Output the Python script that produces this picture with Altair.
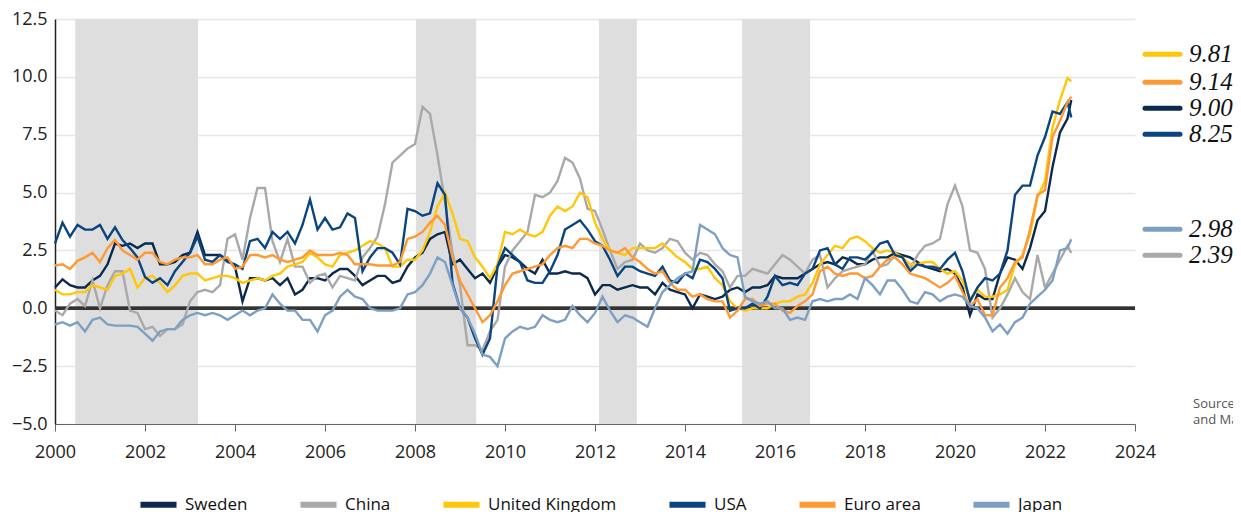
import altair as alt
import pandas as pd

# ---- data (bimonthly readings: Jan, Mar, May, Jul, Sep, Nov; 2022: Jan, Mar, May, Jul, Aug)
countries = ["Sweden", "China", "United Kingdom", "USA", "Euro area", "Japan"]
colors = ["#0b2a4e", "#a9a9a9", "#ffc60a", "#0a4580", "#ff9933", "#7d9fc3"]

sweden = [
    0.9, 1.25, 1.0, 0.9, 0.9, 1.2,
    1.4, 1.9, 2.8, 2.7, 2.8, 2.6,
    2.8, 2.8, 1.9, 1.9, 2.0, 2.3,
    2.4, 3.3, 2.3, 2.3, 2.3, 2.1,
    1.8, 0.3, 1.3, 1.3, 1.2, 1.3,
    1.0, 1.3, 0.6, 0.8, 1.3, 1.3,
    1.2, 1.5, 1.7, 1.7, 1.4, 1.0,
    1.2, 1.4, 1.4, 1.1, 1.2, 1.8,
    2.2, 2.4, 3.0, 3.2, 3.3, 1.9,
    2.1, 1.7, 1.3, 1.5, 1.1, 1.8,
    2.3, 2.2, 2.0, 1.7, 1.5, 2.1,
    1.5, 1.5, 1.6, 1.5, 1.5, 1.3,
    0.6, 1.0, 1.0, 0.8, 0.9, 1.0,
    0.9, 0.9, 0.6, 1.1, 0.8, 0.7,
    0.6, 0.0, 0.6, 0.5, 0.4, 0.5,
    0.8, 0.9, 0.7, 0.9, 0.9, 1.0,
    1.4, 1.3, 1.3, 1.3, 1.5, 1.7,
    1.9, 2.0, 1.9, 2.2, 2.1, 1.9,
    1.9, 2.1, 2.2, 2.2, 2.4, 2.3,
    2.2, 2.0, 1.8, 1.7, 1.6, 1.7,
    1.5, 0.9, -0.3, 0.6, 0.4, 0.4,
    1.5, 2.2, 2.1, 1.7, 2.6, 3.8,
    4.2, 6.1, 7.6, 8.2, 9.0,
]

china = [
    -0.1, -0.3, 0.2, 0.4, 0.1, 1.2,
    0.0, 1.0, 1.6, 1.6, -0.1, -0.2,
    -0.9, -0.8, -1.2, -0.9, -0.9, -0.7,
    0.3, 0.7, 0.8, 0.7, 1.0, 3.0,
    3.2, 2.1, 3.9, 5.2, 5.2, 2.9,
    2.0, 3.0, 1.8, 1.8, 1.1, 1.4,
    1.5, 0.9, 1.4, 1.3, 1.2, 2.2,
    2.6, 3.1, 4.5, 6.3, 6.6, 6.9,
    7.1, 8.7, 8.4, 6.6, 4.6, 2.4,
    1.0, -1.6, -1.6, -1.8, -1.0, -0.5,
    1.8, 2.5, 2.9, 3.3, 4.9, 4.8,
    5.0, 5.5, 6.5, 6.3, 5.6, 4.3,
    4.2, 3.4, 2.5, 1.7, 2.0, 2.1,
    2.8, 2.5, 2.4, 2.6, 3.0, 2.9,
    2.4, 2.1, 2.4, 2.3, 1.9, 1.6,
    0.9, 1.4, 1.4, 1.7, 1.6, 1.5,
    1.9, 2.3, 2.1, 1.8, 1.5, 2.1,
    2.3, 0.9, 1.3, 1.6, 1.7, 1.8,
    1.9, 2.5, 1.8, 1.9, 2.3, 2.2,
    1.7, 2.3, 2.7, 2.8, 3.0, 4.5,
    5.3, 4.4, 2.5, 2.4, 1.7, -0.4,
    0.0, 0.6, 1.3, 0.7, 0.4, 2.3,
    0.9, 1.5, 2.1, 2.7, 2.39,
]

uk = [
    0.8, 0.6, 0.6, 0.7, 0.7, 1.0,
    0.9, 0.8, 1.4, 1.5, 1.7, 0.9,
    1.3, 1.4, 1.1, 0.7, 1.0, 1.4,
    1.5, 1.5, 1.2, 1.3, 1.4, 1.4,
    1.3, 1.1, 1.2, 1.3, 1.2, 1.4,
    1.5, 1.8, 1.9, 2.0, 2.4, 2.2,
    1.9, 1.8, 2.3, 2.4, 2.5, 2.7,
    2.9, 2.8, 2.6, 1.8, 1.8, 2.1,
    2.1, 2.5, 3.3, 4.4, 5.0, 4.1,
    3.0, 2.9, 2.2, 1.8, 1.3, 1.9,
    3.3, 3.2, 3.4, 3.2, 3.1, 3.3,
    4.0, 4.4, 4.2, 4.4, 5.0, 4.8,
    3.7, 3.0, 2.5, 2.4, 2.3, 2.6,
    2.6, 2.6, 2.6, 2.8, 2.5, 2.2,
    2.0, 1.7, 1.7, 1.8, 1.3, 1.0,
    0.3, 0.0, -0.1, 0.0, 0.0, 0.0,
    0.2, 0.3, 0.3, 0.5, 0.6, 1.1,
    1.9, 2.3, 2.7, 2.6, 3.0, 3.1,
    2.9, 2.6, 2.4, 2.5, 2.4, 2.2,
    1.9, 1.9, 2.0, 2.0, 1.7, 1.5,
    1.6, 1.2, 0.4, 0.8, 0.5, 0.5,
    0.6, 0.8, 1.9, 2.3, 3.2, 4.8,
    5.5, 7.8, 9.0, 9.95, 9.81,
]

usa = [
    2.8, 3.7, 3.1, 3.6, 3.4, 3.4,
    3.6, 3.0, 3.5, 2.95, 2.6, 2.2,
    1.35, 1.1, 1.3, 1.0, 1.6, 2.0,
    2.4, 3.1, 2.1, 2.0, 2.3, 2.0,
    1.9, 1.7, 2.9, 3.0, 2.6, 3.3,
    3.0, 3.3, 2.8, 3.6, 4.7, 3.4,
    3.9, 3.4, 3.5, 4.1, 3.9, 1.6,
    2.2, 2.6, 2.6, 2.4, 1.9, 4.3,
    4.2, 4.0, 4.1, 5.4, 4.9, 1.1,
    0.0, -0.4, -1.3, -2.0, -1.3, 1.8,
    2.6, 2.3, 2.0, 1.2, 1.1, 1.1,
    1.6, 2.3, 3.4, 3.6, 3.8, 3.4,
    2.9, 2.7, 2.1, 1.4, 1.8, 1.8,
    1.6, 1.5, 1.4, 1.8, 1.2, 1.1,
    1.5, 1.3, 2.1, 2.0, 1.7, 1.3,
    -0.1, 0.0, 0.0, 0.2, 0.0, 0.5,
    1.4, 1.0, 1.1, 1.0, 1.5, 1.7,
    2.5, 2.6, 1.9, 1.7, 2.2, 2.2,
    2.1, 2.4, 2.8, 2.9, 2.3, 2.2,
    1.6, 1.9, 1.8, 1.8, 1.7, 2.1,
    2.4, 1.6, 0.3, 0.9, 1.3, 1.2,
    1.5, 2.5, 4.9, 5.3, 5.3, 6.6,
    7.4, 8.5, 8.4, 8.9, 8.25,
]

euro = [
    1.85, 1.9, 1.7, 2.05, 2.2, 2.4,
    2.0, 2.6, 2.95, 2.5, 2.3, 2.1,
    2.4, 2.4, 2.0, 1.9, 2.1, 2.2,
    2.2, 2.3, 1.9, 1.9, 2.1, 2.2,
    1.7, 1.8, 2.3, 2.3, 2.2, 2.3,
    2.1, 2.0, 2.1, 2.2, 2.5, 2.3,
    2.3, 2.3, 2.4, 2.3, 1.9, 1.9,
    1.9, 1.85, 1.85, 1.85, 2.0, 3.0,
    3.1, 3.3, 3.7, 4.0, 3.6, 2.2,
    1.2, 0.6, 0.0, -0.6, -0.3, 0.3,
    1.0, 1.5, 1.6, 1.7, 1.8, 1.9,
    2.3, 2.6, 2.7, 2.6, 3.0, 3.0,
    2.8, 2.7, 2.5, 2.4, 2.6, 2.2,
    2.0, 1.7, 1.5, 1.6, 1.1, 0.8,
    0.8, 0.5, 0.6, 0.4, 0.3, 0.3,
    -0.4, -0.1, 0.4, 0.4, 0.1, 0.2,
    0.2, -0.1, -0.2, 0.1, 0.3, 0.6,
    1.6, 1.8, 1.5, 1.4, 1.5, 1.5,
    1.3, 1.4, 1.8, 2.1, 2.2, 1.9,
    1.5, 1.4, 1.3, 1.1, 0.9, 1.1,
    1.4, 0.7, 0.1, 0.4, -0.3, -0.3,
    0.9, 1.3, 2.0, 2.2, 3.4, 4.9,
    5.1, 7.4, 8.1, 8.9, 9.14,
]

japan = [
    -0.7, -0.6, -0.75, -0.6, -1.0, -0.5,
    -0.4, -0.7, -0.75, -0.75, -0.75, -0.8,
    -1.1, -1.4, -1.0, -0.9, -0.9, -0.5,
    -0.3, -0.2, -0.3, -0.2, -0.3, -0.5,
    -0.3, -0.1, -0.3, -0.1, 0.0, 0.6,
    0.2, -0.1, -0.1, -0.5, -0.5, -1.0,
    -0.3, -0.1, 0.5, 0.8, 0.5, 0.4,
    0.0, -0.1, -0.1, -0.1, 0.0, 0.6,
    0.7, 1.0, 1.5, 2.2, 2.0, 1.0,
    0.0, -0.4, -1.1, -2.0, -2.1, -2.5,
    -1.3, -1.0, -0.8, -0.9, -0.8, -0.3,
    -0.5, -0.6, -0.5, 0.1, -0.3, -0.6,
    -0.2, 0.5, -0.1, -0.6, -0.3, -0.4,
    -0.6, -0.8, 0.0, 0.7, 1.0, 1.3,
    1.5, 1.6, 3.6, 3.4, 3.2, 2.6,
    2.3, 2.2, 0.5, 0.3, 0.2, 0.3,
    0.0, 0.0, -0.5, -0.4, -0.5, 0.3,
    0.4, 0.3, 0.4, 0.4, 0.6, 0.4,
    1.3, 1.0, 0.6, 1.2, 1.2, 0.8,
    0.3, 0.2, 0.7, 0.6, 0.3, 0.5,
    0.6, 0.5, 0.1, 0.0, -0.4, -1.0,
    -0.7, -1.1, -0.6, -0.4, 0.2, 0.5,
    0.8, 1.2, 2.5, 2.6, 2.98,
]

# shaded periods (decimal years)
band_start = [2000.45, 2008.02, 2012.09, 2015.27]
band_end = [2003.18, 2009.36, 2012.93, 2016.78]

# end-of-series labels (text, and the y level where each label sits)
end_labels = ["9.81", "9.14", "9.00", "8.25", "2.98", "2.39"]
end_label_series = ["United Kingdom", "Euro area", "Sweden", "USA", "Japan", "China"]
end_label_level = [10.98, 9.77, 8.64, 7.52, 3.41, 2.29]

x_ticks = list(range(2000, 2025, 2))
y_ticks = [-5.0, -2.5, 0.0, 2.5, 5.0, 7.5, 10.0, 12.5]

# ---- build tables
months = []
for yr in range(2000, 2022):
    for m in (0, 2, 4, 6, 8, 10):
        months.append(yr + m / 12)
for m in (0, 2, 4, 6, 7):
    months.append(2022 + m / 12)

series = {"Sweden": sweden, "China": china, "United Kingdom": uk,
          "USA": usa, "Euro area": euro, "Japan": japan}
rows = []
for name in countries:
    for t, v in zip(months, series[name]):
        rows.append({"t": t, "value": v, "country": name})
df = pd.DataFrame(rows)

bands = pd.DataFrame({"start": band_start, "end": band_end})
labels = pd.DataFrame({"label": end_labels, "country": end_label_series,
                       "level": end_label_level})

FONT = "Open Sans"
xscale = alt.Scale(domain=[2000, 2024], nice=False, zero=False)
yscale = alt.Scale(domain=[-5, 12.5], nice=False, zero=False)
cscale = alt.Scale(domain=countries, range=colors)

shade = alt.Chart(bands).mark_rect(color="#dedede").encode(
    x=alt.X("start:Q", scale=xscale,
            axis=alt.Axis(values=x_ticks, format="d", title=None, grid=False,
                          domainColor="#666", tickColor="#666", tickSize=7,
                          labelFlush=False, labelOverlap=False,
                          labelPadding=12, labelFontSize=18, labelColor="#222",
                          labelFont=FONT)),
    x2="end:Q",
    y=alt.Y(datum=12.5, scale=yscale,
            axis=alt.Axis(values=y_ticks, format=".1f", title=None, grid=True,
                          gridColor="#e6e6e6", gridWidth=1.5, ticks=False,
                          labelFlush=False,
                          domainColor="#222", domainWidth=1.5, labelPadding=8,
                          labelFontSize=18, labelColor="#222", labelFont=FONT)),
    y2=alt.datum(-5.0),
)

zero = alt.Chart(bands).mark_rule(color="#333333", strokeWidth=3).encode(
    y=alt.datum(0.0)
)

lines = alt.Chart(df).mark_line(strokeWidth=2.4).encode(
    x=alt.X("t:Q", scale=xscale),
    y=alt.Y("value:Q", scale=yscale),
    color=alt.Color("country:N", scale=cscale, sort=countries,
                    legend=alt.Legend(title=None, orient="none", direction="horizontal",
                                      legendX=82, legendY=464,
                                      symbolType="stroke", symbolStrokeWidth=6,
                                      symbolSize=1300, columnPadding=40,
                                      labelFont=FONT, labelFontSize=17,
                                      labelColor="#111", labelOffset=5)),
    order=alt.Order("t:Q"),
)

label_rules = alt.Chart(labels).mark_rule(strokeWidth=5, strokeCap="round").encode(
    x=alt.value(1090), x2=alt.value(1125),
    y=alt.Y("level:Q", scale=yscale),
    color=alt.Color("country:N", scale=cscale, legend=None),
)
label_text = alt.Chart(labels).mark_text(
    align="left", baseline="middle", font="Liberation Serif", fontStyle="italic",
    fontSize=25, color="#111"
).encode(
    x=alt.value(1134),
    y=alt.Y("level:Q", scale=yscale),
    text="label:N",
)

source = alt.Chart(pd.DataFrame({"txt": [["Sources: National statistics", "and Macrobond"]]})).mark_text(
    align="left", baseline="top", font=FONT, fontSize=13, color="#555", lineHeight=16
).encode(x=alt.value(1138), y=alt.value(379), text="txt")

chart = alt.layer(shade, zero, lines, label_rules, label_text, source).properties(
    width=1080, height=405,
    autosize=alt.AutoSizeParams(type="none"),
    padding={"left": 47, "top": 11, "right": 98, "bottom": 90},
).configure_view(stroke=None)

chart.save("out.html", embed_options={"renderer": "svg", "actions": False})
